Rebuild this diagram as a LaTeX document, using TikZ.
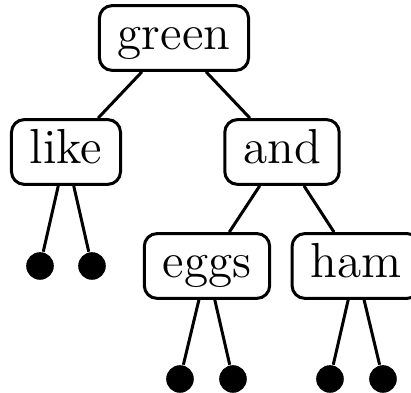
\documentclass[tikz,border=0pt]{standalone}
\usepackage{amsmath}
\usepackage{tikz}
\tikzset{
  word/.style={draw,rounded corners=3.2pt,line width=0.75pt,inner xsep=4.6pt,inner ysep=2.7pt,
    text height=8.4pt,text depth=2.4pt,font=\fontsize{12.3}{14}\selectfont},
  leaf/.style={circle,fill,inner sep=0pt,minimum size=6.9pt},
  edge/.style={line width=0.75pt}
}

\begin{document}
\begin{tikzpicture}[x=0.25pt,y=-0.25pt]
\useasboundingbox (0,0) rectangle (411,393);
\node[word] (green) at (174,38) {green};
\node[word] (like) at (66,152) {like};
\node[word] (and) at (282,152) {and};
\node[word] (eggs) at (207,266) {eggs};
\node[word] (ham) at (356,266) {ham};
\node[leaf] (l1) at (40,266) {};
\node[leaf] (l2) at (92,266) {};
\node[leaf] (e1) at (180,379) {};
\node[leaf] (e2) at (233,379) {};
\node[leaf] (h1) at (330,379) {};
\node[leaf] (h2) at (383,379) {};
\draw[edge] (green) -- (like);
\draw[edge] (green) -- (and);
\draw[edge] (and) -- (eggs);
\draw[edge] (and) -- (ham);
\draw[edge] (like) -- (l1);
\draw[edge] (like) -- (l2);
\draw[edge] (eggs) -- (e1);
\draw[edge] (eggs) -- (e2);
\draw[edge] (ham) -- (h1);
\draw[edge] (ham) -- (h2);
\end{tikzpicture}
\end{document}
